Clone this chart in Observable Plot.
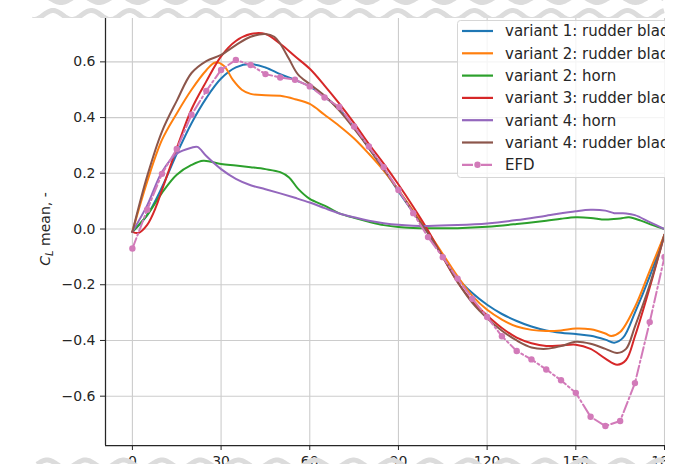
<!DOCTYPE html>
<html><head><meta charset="utf-8">
<script src="https://cdn.jsdelivr.net/npm/d3@7"></script>
<script src="https://cdn.jsdelivr.net/npm/@observablehq/plot@0.6"></script>
<style>
html,body{margin:0;padding:0;background:#fff;}
#page{position:relative;width:687px;height:464px;overflow:hidden;background:#fff;font-family:"DejaVu Sans",sans-serif;}
#chart{position:absolute;left:0;top:0;width:665px;height:464px;overflow:hidden;}
.wave{position:absolute;left:0;display:block;}
</style></head><body><div id="page"><div id="chart"></div></div>
<script>
// ---- data ----
const xTicks = [0, 30, 60, 90, 120, 150, 180];
const yTicks = [-0.6, -0.4, -0.2, 0.0, 0.2, 0.4, 0.6];

const seriesNames = ["variant 1: rudder blade", "variant 2: rudder blade", "variant 2: horn",
  "variant 3: rudder blade", "variant 4: horn", "variant 4: rudder blade"];
const seriesColors = ["#1f77b4", "#ff7f0e", "#2ca02c", "#d62728", "#9467bd", "#8c564b"];
const efdName = "EFD";
const efdColor = "#d27ab9";

const v1Angle = [0,5,10,15,20,25,30,35,40,45,50,55,60,65,70,75,80,85,90,95,100,105,110,115,120,125,130,135,140,145,150,155,160,163,166,170,175,180];
const v1CL = [-0.01,0.05,0.15,0.27,0.38,0.47,0.54,0.58,0.592,0.58,0.556,0.535,0.512,0.475,0.43,0.365,0.29,0.215,0.135,0.06,-0.015,-0.095,-0.175,-0.23,-0.272,-0.305,-0.33,-0.35,-0.364,-0.372,-0.377,-0.383,-0.397,-0.408,-0.39,-0.30,-0.17,-0.02];

const v2bAngle = [0,5,10,15,20,25,28,31,34,37,40,45,50,55,60,65,70,75,80,85,90,95,100,105,110,115,120,125,130,135,140,145,150,155,160,162,165,170,175,180];
const v2bCL = [-0.01,0.17,0.32,0.415,0.5,0.57,0.598,0.585,0.535,0.5,0.485,0.48,0.478,0.466,0.449,0.41,0.37,0.325,0.27,0.21,0.14,0.065,-0.01,-0.09,-0.17,-0.24,-0.29,-0.325,-0.35,-0.362,-0.366,-0.364,-0.357,-0.36,-0.375,-0.384,-0.37,-0.28,-0.15,-0.02];

const v2hAngle = [0,5,10,15,20,24,30,35,40,45,50,53,56,60,65,70,75,80,85,90,95,100,110,120,130,140,145,150,155,160,165,168,172,176,180];
const v2hCL = [-0.01,0.05,0.13,0.195,0.23,0.245,0.233,0.228,0.222,0.215,0.204,0.185,0.145,0.108,0.084,0.056,0.04,0.026,0.014,0.007,0.004,0.003,0.003,0.008,0.018,0.03,0.037,0.042,0.04,0.034,0.038,0.042,0.03,0.014,0.0];

const v3bAngle = [0,2,5,8,10,15,20,25,30,35,40,45,50,55,60,65,70,75,80,85,90,95,100,105,110,115,120,125,130,135,140,145,150,155,160,164,167,170,175,180];
const v3bCL = [-0.01,-0.014,0.015,0.08,0.14,0.29,0.43,0.53,0.62,0.675,0.70,0.70,0.665,0.62,0.575,0.515,0.45,0.38,0.305,0.235,0.16,0.08,-0.005,-0.1,-0.19,-0.26,-0.31,-0.355,-0.39,-0.41,-0.42,-0.418,-0.415,-0.43,-0.465,-0.487,-0.47,-0.385,-0.21,-0.02];

const v4hAngle = [0,5,10,15,20,22,25,30,35,40,45,50,55,60,65,70,75,80,85,90,95,100,110,120,130,140,150,155,160,163,167,170,175,180];
const v4hCL = [-0.01,0.085,0.205,0.27,0.292,0.295,0.262,0.215,0.18,0.157,0.143,0.128,0.112,0.095,0.075,0.056,0.042,0.03,0.021,0.015,0.012,0.011,0.014,0.02,0.032,0.048,0.064,0.069,0.066,0.057,0.056,0.05,0.025,0.0];

const v4bAngle = [0,5,10,15,20,25,30,35,40,45,48,50,53,56,60,65,70,75,80,85,90,95,100,105,110,115,120,125,130,135,140,145,150,155,160,164,167,170,175,180];
const v4bCL = [-0.01,0.19,0.35,0.46,0.56,0.603,0.625,0.66,0.69,0.70,0.69,0.665,0.61,0.555,0.52,0.478,0.425,0.36,0.29,0.215,0.14,0.06,-0.015,-0.1,-0.19,-0.265,-0.32,-0.365,-0.4,-0.425,-0.43,-0.42,-0.405,-0.412,-0.43,-0.445,-0.43,-0.35,-0.2,-0.02];

const efdAngle = [0,5,10,15,20,25,30,35,40,45,50,55,60,65,70,75,80,85,90,95,100,105,110,115,120,125,130,135,140,145,150,155,160,165,170,175,180];
const efdCL = [-0.07,0.069,0.198,0.287,0.41,0.496,0.571,0.607,0.589,0.556,0.544,0.536,0.512,0.472,0.438,0.368,0.296,0.222,0.14,0.057,-0.029,-0.101,-0.178,-0.25,-0.316,-0.385,-0.438,-0.468,-0.504,-0.543,-0.588,-0.674,-0.707,-0.689,-0.553,-0.334,-0.10];

// ---- build tables ----
const cfdSeries = [
  [seriesNames[0], v1Angle, v1CL],
  [seriesNames[1], v2bAngle, v2bCL],
  [seriesNames[2], v2hAngle, v2hCL],
  [seriesNames[3], v3bAngle, v3bCL],
  [seriesNames[4], v4hAngle, v4hCL],
  [seriesNames[5], v4bAngle, v4bCL]
];
const rows = cfdSeries.flatMap(([name, xs, ys]) => xs.map((a, i) => ({name, angle: a, cl: ys[i]})));
const efd = efdAngle.map((a, i) => ({angle: a, cl: efdCL[i]}));

const X0 = -9.1, Y0 = -0.777;
const fmt = d => (d < 0 ? "\u2212" : "") + Math.abs(d).toFixed(1);
const ink = "#262626";

const plot = Plot.plot({
  width: 665, height: 464,
  marginLeft: 105, marginRight: 1, marginTop: 14, marginBottom: 19,
  style: {fontFamily: "DejaVu Sans", fontSize: "14px", color: ink, background: "white", overflow: "hidden"},
  x: {domain: [X0, 180], label: null},
  y: {domain: [Y0, 0.77], label: null},
  color: {domain: seriesNames, range: seriesColors},
  marks: [
    Plot.gridX(xTicks, {stroke: "#cccccc", strokeOpacity: 1, strokeWidth: 1.1}),
    Plot.gridY(yTicks, {stroke: "#cccccc", strokeOpacity: 1, strokeWidth: 1.1}),
    Plot.line(rows, {x: "angle", y: "cl", z: "name", stroke: "name", curve: "catmull-rom", strokeWidth: 2, clip: true}),
    Plot.line(efd, {x: "angle", y: "cl", stroke: efdColor, strokeWidth: 2, strokeDasharray: "11,3,2,3", clip: true}),
    Plot.dot(efd, {x: "angle", y: "cl", r: 3.2, fill: efdColor, stroke: "none", clip: true}),
    Plot.ruleX([X0], {stroke: ink, strokeWidth: 1.25}),
    Plot.ruleY([Y0], {stroke: ink, strokeWidth: 1.25}),
    Plot.axisX(xTicks, {tickSize: 5, tickPadding: 6, label: null, fontSize: 14}),
    Plot.axisY(yTicks, {tickSize: 5, tickPadding: 5, tickFormat: fmt, label: null, fontSize: 14})
  ]
});
document.getElementById("chart").appendChild(plot);

const svg = d3.select(plot);
// y-axis label
const lab = svg.append("text")
  .attr("transform", "translate(50,229) rotate(-90)")
  .attr("text-anchor", "middle").attr("font-size", 14).attr("fill", ink)
  .attr("font-family", "DejaVu Sans");
lab.append("tspan").attr("font-style", "italic").text("C");
lab.append("tspan").attr("font-style", "italic").attr("font-size", 10).attr("dy", 3).text("L");
lab.append("tspan").attr("dy", -3).text(" mean, -");

// legend
const lg = svg.append("g").attr("font-family", "DejaVu Sans").attr("font-size", 15).attr("text-anchor", "start");
lg.append("rect").attr("x", 457.5).attr("y", 20.5).attr("width", 260).attr("height", 157)
  .attr("rx", 3).attr("fill", "white").attr("fill-opacity", 0.8).attr("stroke", "#d6d6d6");
const legendItems = seriesNames.map((n, i) => ({name: n, color: seriesColors[i]})).concat([{name: efdName, color: efdColor, efd: true}]);
legendItems.forEach((it, i) => {
  const y = 31 + i * 22.3;
  lg.append("line").attr("x1", 462).attr("x2", 493).attr("y1", y).attr("y2", y)
    .attr("stroke", it.color).attr("stroke-width", 2.2)
    .attr("stroke-dasharray", it.efd ? "11,3,2,3" : null);
  if (it.efd) lg.append("circle").attr("cx", 477.5).attr("cy", y).attr("r", 3.2).attr("fill", it.color);
  lg.append("text").attr("x", 505).attr("y", y).attr("dy", "0.36em").attr("text-anchor", "start")
    .attr("fill", ink).text(it.name);
});

// decorative wavy bands (top and bottom)
const page = d3.select("#page");
function waveBand(top, h, rowsSpec, bg) {
  const s = page.append("svg").attr("class", "wave").style("top", top + "px")
    .attr("width", 687).attr("height", h);
  if (bg) s.append("rect").attr("width", 687).attr("height", h).attr("fill", "white");
  rowsSpec.forEach(r => {
    const pts = d3.range(r.x1, r.x2 + 0.5, 1).map(x => [x, r.c + r.sgn * r.a * Math.cos(2 * Math.PI * (x - r.x0) / 38.3)]);
    s.append("path").attr("d", d3.line()(pts)).attr("fill", "none")
      .attr("stroke", "#dcdcdc").attr("stroke-width", 5);
  });
}
waveBand(0, 18, [
  {x1: 45, x2: 664, c: -1, a: 3.5, sgn: 1, x0: 61},
  {x1: 32, x2: 664, c: 15, a: 4.5, sgn: -1, x0: 53}
], true);
waveBand(456, 8, [
  {x1: 37, x2: 664, c: 8, a: 4, sgn: -1, x0: 47}
], false);
</script></body></html>
